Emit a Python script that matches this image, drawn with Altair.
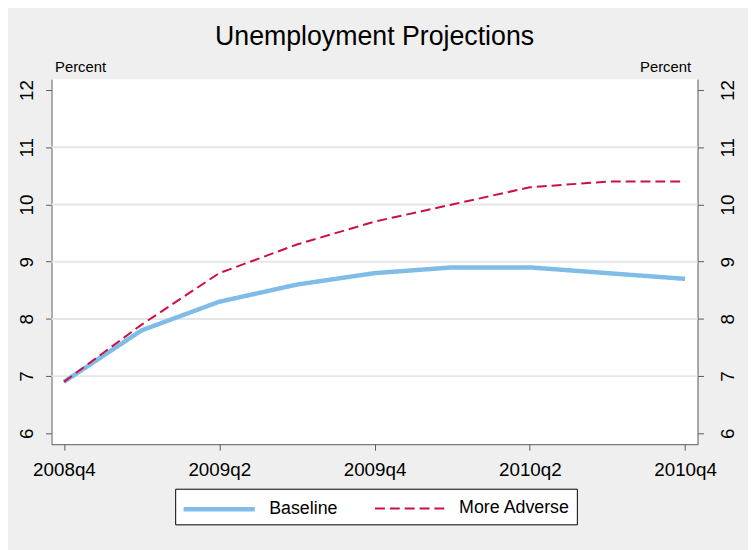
import altair as alt
import pandas as pd

quarters = ["2008q4", "2009q1", "2009q2", "2009q3", "2009q4",
            "2010q1", "2010q2", "2010q3", "2010q4"]
baseline = [6.9, 7.8, 8.3, 8.6, 8.8, 8.9, 8.9, 8.8, 8.7]
more_adverse = [6.9, 7.9, 8.8, 9.3, 9.7, 10.0, 10.3, 10.4, 10.4]
series_names = ["Baseline", "More Adverse"]
x_tick_labels = ["2008q4", "2009q2", "2009q4", "2010q2", "2010q4"]
y_ticks = [6, 7, 8, 9, 10, 11, 12]
grid_values = [7, 8, 9, 10, 11]

rows = []
for q, b, m in zip(quarters, baseline, more_adverse):
    rows.append({"quarter": q, "series": series_names[0], "value": b})
    rows.append({"quarter": q, "series": series_names[1], "value": m})
df = pd.DataFrame(rows)
grid_df = pd.DataFrame({"g": grid_values})

FONT = "Liberation Sans"
AXIS_COLOR = "#5a5a5a"

yscale = alt.Scale(domain=[5.81, 12.19], nice=False, zero=False)
xscale = alt.Scale(domain=quarters, padding=0.16)


def make_legend():
    return alt.Legend(title=None, orient="none", legendX=125, legendY=414,
                      direction="horizontal", symbolType="M-1,0H5",
                      symbolSize=576, labelFont=FONT, labelFontSize=18,
                      labelColor="#000", labelOffset=60,
                      columnPadding=33, padding=6,
                      fillColor="#ffffff", strokeColor="#000000")


def y_axis(orient, title_x, title_align, baseline_, pad):
    return alt.Axis(values=y_ticks, orient=orient, title="Percent",
                    titleAngle=0, titleX=title_x, titleY=-8, titleAlign=title_align,
                    titleBaseline="alphabetic", titleFont=FONT,
                    titleFontSize=15, titleFontWeight="normal",
                    titleColor="#000",
                    labelAngle=270, labelAlign="center",
                    labelBaseline=baseline_, labelPadding=pad,
                    labelFontSize=19, labelFont=FONT, labelColor="#000",
                    tickSize=6, tickColor=AXIS_COLOR, domainColor=AXIS_COLOR,
                    grid=False)


grid = alt.Chart(grid_df).mark_rule(color="#e6e6e6", strokeWidth=2).encode(
    y=alt.Y("g:Q", scale=yscale, axis=None)
)

lines = alt.Chart(df).mark_line(strokeCap="butt").encode(
    x=alt.X("quarter:O", scale=xscale, sort=quarters,
            axis=alt.Axis(values=x_tick_labels, title=None, labelAngle=0,
                          labelFontSize=19, labelFont=FONT, labelColor="#000",
                          tickSize=6, tickColor=AXIS_COLOR, domainColor=AXIS_COLOR,
                          labelPadding=11, grid=False)),
    y=alt.Y("value:Q", scale=yscale, axis=y_axis("left", 3, "left", "bottom", 9)),
    color=alt.Color("series:N",
                    scale=alt.Scale(domain=series_names, range=["#80bce8", "#cc1040"]),
                    legend=make_legend()),
    strokeDash=alt.StrokeDash("series:N",
                              scale=alt.Scale(domain=series_names, range=[[1, 0], [10, 5]]),
                              legend=make_legend()),
    strokeWidth=alt.StrokeWidth("series:N",
                                scale=alt.Scale(domain=series_names, range=[4.5, 2]),
                                legend=make_legend()),
)

right_axis = alt.Chart(df).mark_line(opacity=0).encode(
    y=alt.Y("value:Q", scale=yscale, axis=y_axis("right", -7, "right", "top", 15)),
    x=alt.X("quarter:O", scale=xscale, sort=quarters),
)

chart = alt.layer(grid, lines, right_axis).resolve_axis(y="independent").properties(
    width=653,
    height=369,
    autosize="none",
    padding={"left": 44, "top": 69, "right": 51, "bottom": 104},
    background="#efefef",
    title=alt.TitleParams("Unemployment Projections", font=FONT, fontSize=27,
                          fontWeight="normal", color="#000", anchor="middle", offset=9),
).configure_view(stroke=None, fill="#ffffff")

chart.save("out.html", embed_options={"renderer": "svg", "actions": False})
